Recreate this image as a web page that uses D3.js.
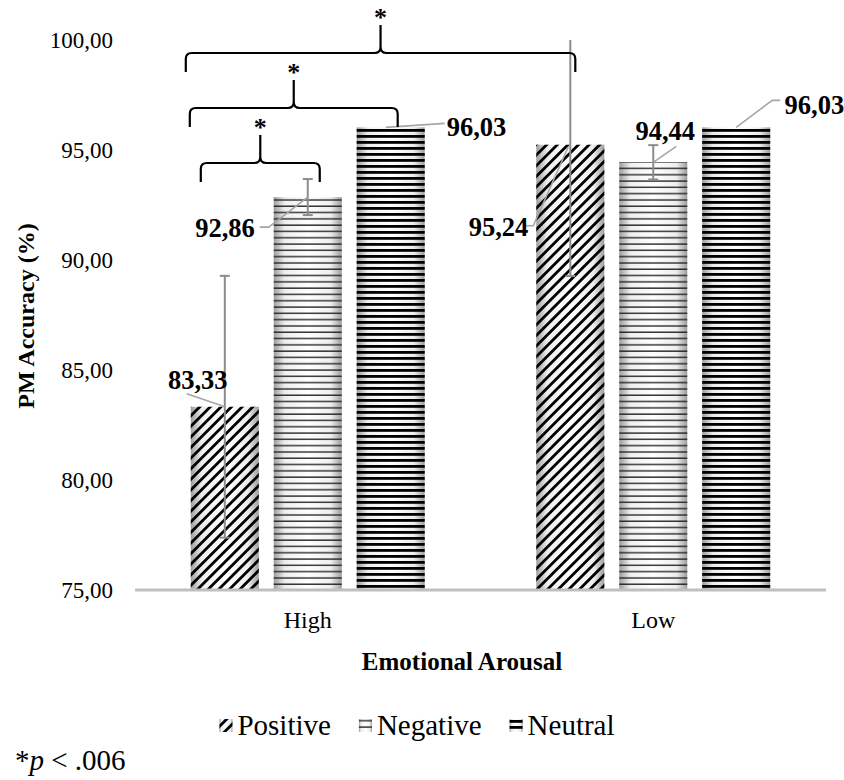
<!DOCTYPE html>
<html lang="en">
<head>
<meta charset="UTF-8">
<script src="https://d3js.org/d3.v7.min.js"></script>
<style>
    body { margin: 0; background: #fff; }
    text { font-family: "Liberation Serif", "Times New Roman", serif; fill: #000; }
    .tick-label { font-size: 23px; }
    .cat-label { font-size: 24px; }
    .axis-title { font-size: 25px; font-weight: bold; }
    .y-title { font-size: 24px; font-weight: bold; }
    .value-label { font-size: 26.5px; font-weight: bold; }
    .legend-label { font-size: 29px; }
    .star { font-size: 26px; font-weight: bold; }
    .note { font-size: 29px; }
</style>
</head>
<body>
<svg id="chart"></svg>
<script>
    // data
    const groups = ["High", "Low"];
    const series = ["Positive", "Negative", "Neutral"];
    const accuracy = [
        [83.33, 92.86, 96.03],   // High
        [95.24, 94.44, 96.03]    // Low
    ];
    const errors = [
        [5.95, 0.82, 0],
        [5.97, 0.78, 0]
    ];
    const yTicks = [75, 80, 85, 90, 95, 100];
    const valueLabels = [
        ["83,33", "92,86", "96,03"],
        ["95,24", "94,44", "96,03"]
    ];
    // significance brackets: from bar, to bar, height of the bar line
    const brackets = [
        { from: ["High", "Positive"], to: ["High", "Negative"], level: 94.41 },
        { from: ["High", "Positive"], to: ["High", "Neutral"], level: 96.91 },
        { from: ["High", "Positive"], to: ["Low", "Positive"], level: 99.41 }
    ];

    // layout of the labels relative to the top of each bar (pixels)
    const labelLayout = [
        [ { dx: -27, dy: -27, anchor: "middle", leader: [[-38, -13], [0, 0]] },
          { dx: -53, dy: 31, anchor: "end", leader: [[-48, 30], [-39, 30], [0, 0]] },
          { dx: 56, dy: -1, anchor: "start", leader: [[54, -4], [-5, 0]] } ],
        [ { dx: -42, dy: 82, anchor: "end", leader: [[-47, 81], [-37, 81], [-2, 2]] },
          { dx: 12, dy: -32, anchor: "middle", leader: [[23, -16], [0, 0]] },
          { dx: 108, dy: -23, anchor: "end", leader: [[44, -27], [36, -27], [0, 0]] } ]
    ];
    const bracketLayout = [
        { dl: 10, dr: 12 },
        { dl: -1, dr: 7 },
        { dl: -5, dr: 5 }
    ];

    const width = 844, height = 780;
    const plot = { left: 135, right: 826, top: 40, bottom: 590 };

    const svg = d3.select("#chart")
        .attr("width", width)
        .attr("height", height);

    const x0 = d3.scaleBand()
        .domain(groups)
        .range([plot.left, plot.right])
        .paddingInner(0.323)
        .paddingOuter(0.1615);

    const x1 = d3.scaleBand()
        .domain(series)
        .range([0, x0.bandwidth()])
        .paddingInner(0.18);

    const y = d3.scaleLinear()
        .domain([75, 100])
        .range([plot.bottom, plot.top]);

    // fills: shaded background + pattern overlay
    const defs = svg.append("defs");
    const grad = defs.append("linearGradient")
        .attr("id", "shade")
        .attr("x1", "0%").attr("x2", "100%").attr("y1", "0%").attr("y2", "0%");
    [[0, "#9c9c9c"], [0.16, "#eeeeee"], [0.5, "#ffffff"], [0.84, "#eeeeee"], [1, "#9c9c9c"]]
        .forEach(([o, c]) => grad.append("stop").attr("offset", o).attr("stop-color", c));

    const pPos = defs.append("pattern")
        .attr("id", "pat-Positive")
        .attr("patternUnits", "userSpaceOnUse")
        .attr("width", 7.5).attr("height", 7.5)
        .attr("patternTransform", "rotate(45)");
    pPos.append("rect").attr("x", 0).attr("y", 0).attr("width", 2.8).attr("height", 7.5).attr("fill", "#000");

    const pNeg = defs.append("pattern")
        .attr("id", "pat-Negative")
        .attr("patternUnits", "userSpaceOnUse")
        .attr("width", 10).attr("height", 6.3);
    pNeg.append("rect").attr("x", 0).attr("y", 4).attr("width", 10).attr("height", 1.3).attr("fill", "#1a1a1a");

    const pNeu = defs.append("pattern")
        .attr("id", "pat-Neutral")
        .attr("patternUnits", "userSpaceOnUse")
        .attr("width", 10).attr("height", 6);
    pNeu.append("rect").attr("x", 0).attr("y", 3).attr("width", 10).attr("height", 2.8).attr("fill", "#000");

    // y tick labels (no axis line)
    svg.append("g").selectAll("text")
        .data(yTicks)
        .join("text")
        .attr("class", "tick-label")
        .attr("x", plot.left - 22)
        .attr("y", d => y(d))
        .attr("dy", "0.35em")
        .attr("text-anchor", "end")
        .text(d => d.toFixed(2).replace(".", ","));

    // bars
    const barData = [];
    groups.forEach((g, gi) => series.forEach((s, si) => barData.push({
        g, s, gi, si, v: accuracy[gi][si], e: errors[gi][si]
    })));

    const bars = svg.append("g");
    bars.selectAll("rect.bg")
        .data(barData)
        .join("rect")
        .attr("class", "bg")
        .attr("x", d => x0(d.g) + x1(d.s))
        .attr("y", d => y(d.v))
        .attr("width", x1.bandwidth())
        .attr("height", d => y(75) - y(d.v))
        .attr("fill", "url(#shade)");
    bars.selectAll("rect.pat")
        .data(barData)
        .join("rect")
        .attr("class", "pat")
        .attr("x", d => x0(d.g) + x1(d.s))
        .attr("y", d => y(d.v))
        .attr("width", x1.bandwidth())
        .attr("height", d => y(75) - y(d.v))
        .attr("fill", d => `url(#pat-${d.s})`);

    // baseline
    svg.append("line")
        .attr("x1", plot.left).attr("x2", plot.right)
        .attr("y1", y(75)).attr("y2", y(75))
        .attr("stroke", "#bfbfbf")
        .attr("stroke-width", 3);

    // error bars
    const cx = d => x0(d.g) + x1(d.s) + x1.bandwidth() / 2;
    const clampV = v => Math.max(75, Math.min(100, v));
    const err = svg.append("g")
        .attr("stroke", "#8c8c8c")
        .attr("stroke-width", 2)
        .selectAll("g")
        .data(barData.filter(d => d.e > 0))
        .join("g");
    err.append("line")
        .attr("x1", cx).attr("x2", cx)
        .attr("y1", d => y(clampV(d.v + d.e)))
        .attr("y2", d => y(clampV(d.v - d.e)));
    err.filter(d => d.v + d.e <= 100).append("line")
        .attr("x1", d => cx(d) - 5).attr("x2", d => cx(d) + 5)
        .attr("y1", d => y(d.v + d.e)).attr("y2", d => y(d.v + d.e));
    err.filter(d => d.v - d.e >= 75).append("line")
        .attr("x1", d => cx(d) - 5).attr("x2", d => cx(d) + 5)
        .attr("y1", d => y(d.v - d.e)).attr("y2", d => y(d.v - d.e));

    // value labels with leader lines
    const lab = svg.append("g");
    barData.forEach(d => {
        const L = labelLayout[d.gi][d.si];
        const bx = cx(d), by = y(d.v);
        lab.append("path")
            .attr("d", d3.line()(L.leader.map(p => [bx + p[0], by + p[1]])))
            .attr("fill", "none")
            .attr("stroke", "#a6a6a6")
            .attr("stroke-width", 1.6);
        lab.append("text")
            .attr("class", "value-label")
            .attr("x", bx + L.dx)
            .attr("y", by + L.dy)
            .attr("dy", "0.35em")
            .attr("text-anchor", L.anchor)
            .text(valueLabels[d.gi][d.si]);
    });

    // category labels
    svg.append("g").selectAll("text")
        .data(groups)
        .join("text")
        .attr("class", "cat-label")
        .attr("x", d => x0(d) + x0.bandwidth() / 2)
        .attr("y", 628)
        .attr("text-anchor", "middle")
        .text(d => d);

    // axis titles
    svg.append("text")
        .attr("class", "axis-title")
        .attr("x", 462)
        .attr("y", 670)
        .attr("text-anchor", "middle")
        .text("Emotional Arousal");

    svg.append("text")
        .attr("class", "y-title")
        .attr("transform", "translate(34,316) rotate(-90)")
        .attr("text-anchor", "middle")
        .text("PM Accuracy (%)");

    // significance brackets
    const br = svg.append("g");
    brackets.forEach((b, i) => {
        const lay = bracketLayout[i];
        const xa = x0(b.from[0]) + x1(b.from[1]) + lay.dl;
        const xb = x0(b.to[0]) + x1(b.to[1]) + x1.bandwidth() / 2 + lay.dr;
        const xm = (xa + xb) / 2;
        const yh = y(b.level);
        const yb = yh + 19, yt = yh - 28, r = 6;
        const path = `M${xa},${yb} L${xa},${yh + r} Q${xa},${yh} ${xa + r},${yh}` +
            ` L${xm - r},${yh} Q${xm},${yh} ${xm},${yh - r} L${xm},${yt}` +
            ` M${xm},${yh - r} Q${xm},${yh} ${xm + r},${yh} L${xb - r},${yh}` +
            ` Q${xb},${yh} ${xb},${yh + r} L${xb},${yb}`;
        br.append("path")
            .attr("d", path)
            .attr("fill", "none")
            .attr("stroke", "#000")
            .attr("stroke-width", 2.2);
        br.append("text")
            .attr("class", "star")
            .attr("x", xm)
            .attr("y", yt + 1)
            .attr("text-anchor", "middle")
            .text("*");
    });

    // legend
    const legend = svg.append("g");
    let lx = 0;
    series.forEach(s => {
        const it = legend.append("g").attr("transform", `translate(${lx},0)`);
        it.append("rect").attr("x", 0).attr("y", -16).attr("width", 13).attr("height", 13).attr("fill", "url(#shade)");
        it.append("rect").attr("x", 0).attr("y", -16).attr("width", 13).attr("height", 13).attr("fill", `url(#pat-${s})`);
        const t = it.append("text")
            .attr("class", "legend-label")
            .attr("x", 18)
            .attr("y", 0)
            .text(s);
        lx += 18 + t.node().getComputedTextLength() + 28;
    });
    lx -= 28;
    legend.attr("transform", `translate(${417 - lx / 2},735)`);

    // footnote
    const note = svg.append("text")
        .attr("class", "note")
        .attr("x", 15)
        .attr("y", 770);
    note.append("tspan").text("*");
    note.append("tspan").attr("font-style", "italic").text("p");
    note.append("tspan").text(" < .006");
</script>
</body>
</html>
